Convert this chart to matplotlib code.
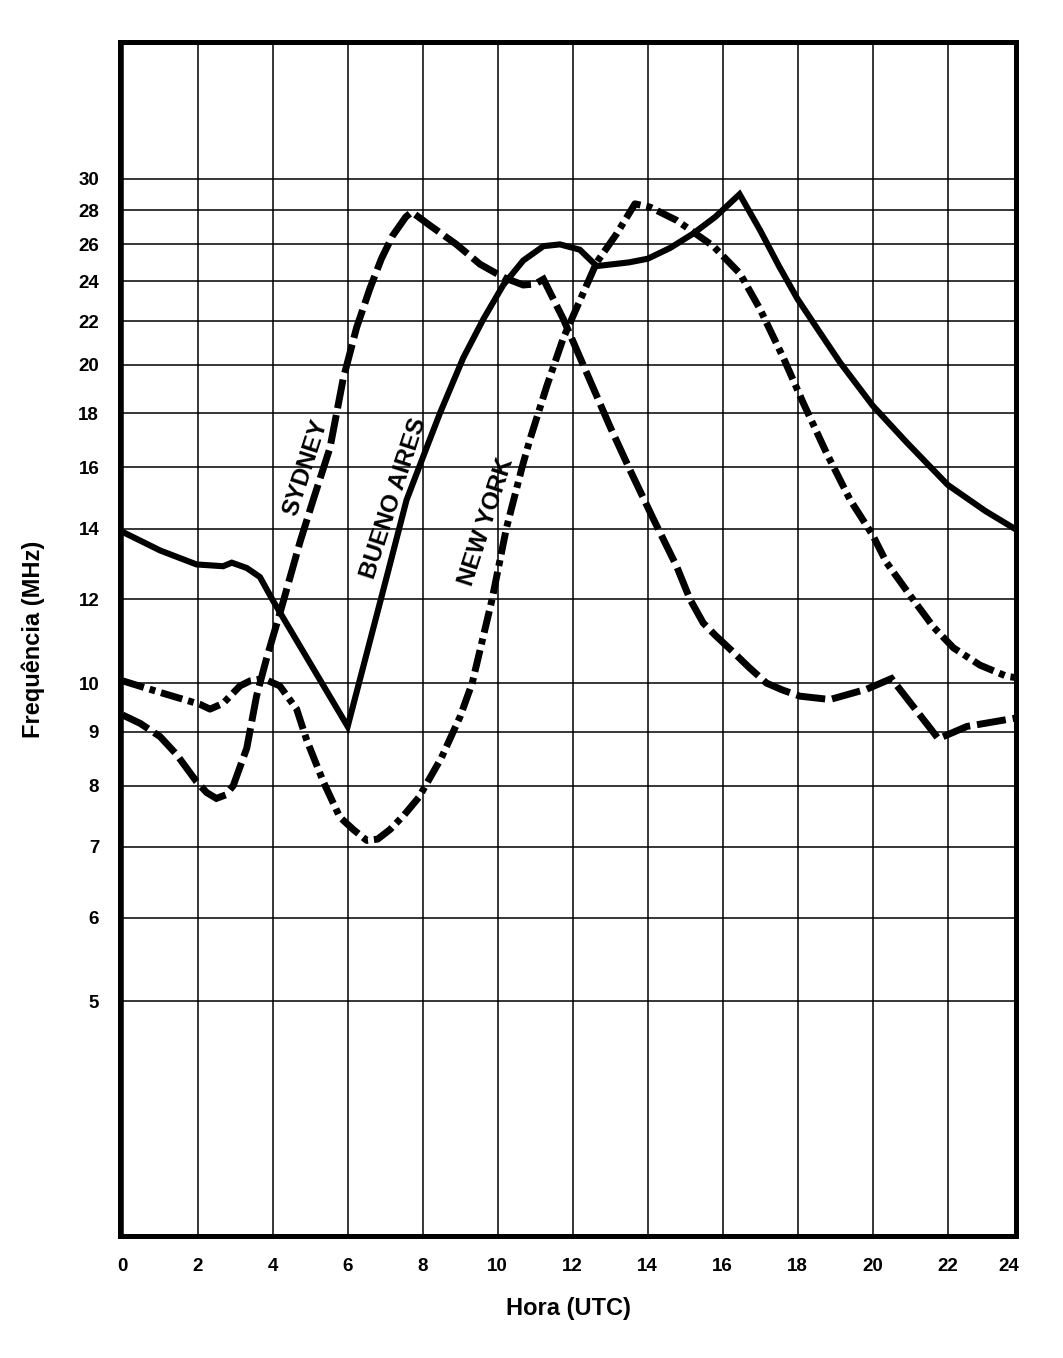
import matplotlib
matplotlib.use("Agg")
import matplotlib.pyplot as plt
from matplotlib.ticker import FixedLocator, NullLocator, FixedFormatter

plt.rcParams['font.family'] = ['Liberation Sans', 'DejaVu Sans']
plt.rcParams['lines.scale_dashes'] = False

# ---- data ----
x_ticks = [0, 2, 4, 6, 8, 10, 12, 14, 16, 18, 20, 22, 24]
y_ticks = [5, 6, 7, 8, 9, 10, 12, 14, 16, 18, 20, 22, 24, 26, 28, 30]

# Buenos Aires (solid)
ba_hour = [0, 1.0, 1.97, 2.68, 2.91, 3.31, 3.66, 4.02, 6.0, 7.04, 7.57, 8.02, 8.46,
           9.08, 9.62, 10.15, 10.68, 11.22, 11.66, 12.19, 12.64, 13.5, 14.0, 14.6,
           15.2, 15.8, 16.45, 17.0, 17.5, 17.99, 18.5, 19.13, 20.0, 20.9, 22.0, 23.0, 24.0]
ba_freq = [13.9, 13.35, 12.95, 12.9, 13.0, 12.85, 12.6, 11.95, 9.1, 12.6, 14.9, 16.4, 18.0,
           20.3, 22.1, 23.8, 25.1, 25.9, 26.0, 25.7, 24.8, 25.0, 25.2, 25.8,
           26.6, 27.6, 29.0, 26.8, 24.8, 23.1, 21.7, 20.1, 18.3, 16.9, 15.4, 14.55, 13.85]

# Sydney (dashed)
sy_hour = [0, 0.47, 1.0, 1.44, 1.97, 2.24, 2.5, 2.75, 2.95, 3.31, 3.57, 3.84, 4.24, 4.73,
           5.08, 5.53, 5.88, 6.24, 6.59, 6.9, 7.2, 7.55, 7.71, 8.19, 8.9, 9.53, 10.15,
           10.68, 11.0, 11.22, 11.75, 12.28, 12.99, 13.53, 14.15, 14.77, 15.13, 15.48,
           15.8, 16.28, 16.7, 17.17, 17.6, 18.06, 18.86, 19.84, 20.5, 21.75, 22.51,
           23.75, 24.0]
sy_freq = [9.33, 9.16, 8.9, 8.56, 8.07, 7.88, 7.78, 7.84, 8.0, 8.68, 9.72, 10.56, 11.8, 13.6,
           14.9, 16.7, 19.4, 21.7, 23.6, 25.2, 26.5, 27.6, 27.9, 27.1, 26.0, 24.9, 24.2,
           23.8, 23.85, 24.1, 22.1, 20.0, 17.5, 15.9, 14.3, 12.9, 12.0, 11.4,
           11.1, 10.7, 10.35, 10.0, 9.85, 9.72, 9.65, 9.87, 10.1, 8.86, 9.1,
           9.26, 9.3]

# New York (dash-dot)
ny_hour = [0, 1.0, 2.06, 2.33, 2.68, 3.13, 3.4, 3.75, 4.19, 4.64, 4.91, 5.35, 5.79, 6.15,
           6.51, 6.8, 7.13, 7.5, 7.9, 8.5, 9.0, 9.32, 9.85, 10.23, 10.65, 10.86, 11.31,
           11.75, 12.19, 12.64, 13.17, 13.66, 14.06, 14.77, 15.75, 16.46, 16.99, 17.62,
           18.15, 18.77, 19.4, 20.0, 20.37, 21.0, 21.62, 22.15, 22.86, 23.57, 24.0]
ny_freq = [10.05, 9.8, 9.55, 9.45, 9.57, 9.94, 10.05, 10.1, 9.94, 9.45, 8.83, 8.07, 7.47,
           7.27, 7.1, 7.12, 7.27, 7.5, 7.8, 8.5, 9.3, 10.0, 12.0, 14.0, 16.0, 17.0, 19.1,
           21.2, 23.0, 25.0, 26.6, 28.4, 28.2, 27.4, 25.9, 24.4, 22.6, 20.3,
           18.4, 16.5, 14.9, 13.8, 13.0, 12.1, 11.3, 10.8, 10.4, 10.15, 10.1]

labels = ["SYDNEY", "BUENO AIRES", "NEW YORK"]
label_pos = [(4.88, 16.0), (7.22, 14.97), (9.71, 14.2)]

# ---- figure ----
fig = plt.figure(figsize=(10.63, 13.58), dpi=100)
ax = fig.add_axes([120 / 1063, 1 - 1236 / 1358, (1016 - 120) / 1063, (1236 - 42) / 1358])

ax.set_yscale('log')
ax.set_xlim(-0.07, 23.82)
ax.set_ylim(3.0, 40.4)

ax.xaxis.set_major_locator(FixedLocator(x_ticks))
ax.xaxis.set_minor_locator(NullLocator())
ax.yaxis.set_major_locator(FixedLocator(y_ticks))
ax.yaxis.set_major_formatter(FixedFormatter([str(v) for v in y_ticks]))
ax.yaxis.set_minor_locator(NullLocator())

ax.grid(True, which='major', color='black', linewidth=1.1, zorder=1)
ax.set_axisbelow(True)

ax.tick_params(axis='both', length=0, labelsize=13.5)
ax.tick_params(axis='x', pad=16)
ax.tick_params(axis='y', pad=15)
for lab in ax.get_xticklabels() + ax.get_yticklabels():
    lab.set_fontweight('bold')

# the last hour label sits at the right frame edge
ax.annotate(str(x_ticks[-1]), xy=(1.0, 0.0), xycoords='axes fraction',
            xytext=(2, -16), textcoords='offset points', ha='right', va='top',
            fontsize=13.5, fontweight='bold')

for s in ax.spines.values():
    s.set_linewidth(3.6)
    s.set_zorder(5)

ax.plot(ba_hour, ba_freq, color='black', linewidth=4.4, solid_joinstyle='miter',
        solid_capstyle='butt', zorder=3)
ax.plot(sy_hour, sy_freq, color='black', linewidth=5.0, dashes=(21, 5),
        dash_capstyle='butt', dash_joinstyle='miter', zorder=3)
ax.plot(ny_hour, ny_freq, color='black', linewidth=5.0, dashes=(16, 4.3, 4.3, 4.3),
        dash_capstyle='butt', dash_joinstyle='round', zorder=3)

for txt, (lx, ly) in zip(labels, label_pos):
    ax.text(lx, ly, txt, rotation=72, ha='center', va='center', fontsize=17.5,
            fontweight='bold', rotation_mode='anchor', zorder=4)

ax.set_xlabel('Hora (UTC)', fontsize=17, fontweight='bold', labelpad=16)
ax.set_ylabel('Frequência (MHz)', fontsize=17, fontweight='bold', labelpad=24)

fig.savefig('out.png', dpi=100)
